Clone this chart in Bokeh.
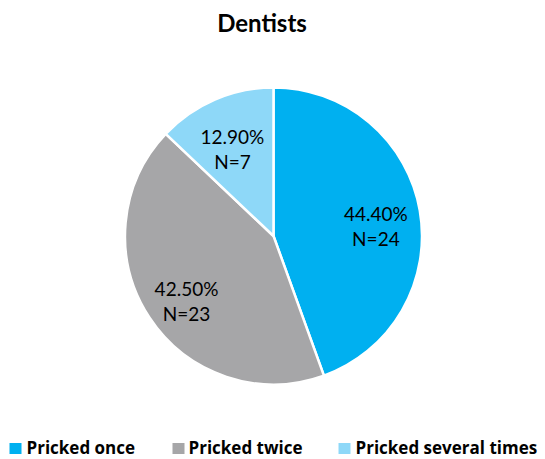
import math
from bokeh.plotting import figure
from bokeh.models import Range1d
from bokeh.core.properties import value
from bokeh.embed import file_html
from bokeh.resources import INLINE

# --- data ---
categories = ["Pricked once", "Pricked twice", "Pricked several times"]
percentages = [44.40, 42.50, 12.90]
counts = [24, 23, 7]
colors = ["#00B0F0", "#A6A6A8", "#8ED8F8"]
title_text = "Dentists"

W, H = 545, 459
FONT = "Lato"
LEGEND_FONT = "Open Sans"

p = figure(width=W, height=H, x_range=Range1d(0, W), y_range=Range1d(0, H),
           min_border=0, outline_line_color=None, toolbar_location=None,
           x_axis_location=None, y_axis_location=None, output_backend="svg")
p.grid.visible = False
p.background_fill_color = "white"
p.border_fill_color = "white"

def py(y):
    # convert a top-down pixel position to the plot's y coordinate
    return H - y

def mid_of(baseline, size):
    # vertical middle of the capitals for a given baseline and font size
    return baseline - 0.34 * size

cx, cy = 273, 235.5
R = 148.5

total = sum(percentages)
starts, ends, mids = [], [], []
acc = 0.0
for v in percentages:
    a0 = math.pi / 2 - acc / total * 2 * math.pi
    acc += v
    a1 = math.pi / 2 - acc / total * 2 * math.pi
    starts.append(a0)
    ends.append(a1)
    mids.append((a0 + a1) / 2)

p.wedge(x=[cx] * 3, y=[py(cy)] * 3, radius=R, start_angle=starts, end_angle=ends,
        direction="clock", fill_color=colors, line_color="white", line_width=2.5)

# slice labels
LS = 19
lx, ly1, ly2, t1, t2 = [], [], [], [], []
for m, pct, n in zip(mids, percentages, counts):
    x = cx + 0.7 * R * math.cos(m)
    yc = cy - 0.7 * R * math.sin(m) + 9
    lx.append(x)
    ly1.append(py(mid_of(yc - 7, LS)))
    ly2.append(py(mid_of(yc + 18, LS)))
    t1.append(f"{pct:.2f}%")
    t2.append(f"N={n}")

common = dict(text_font=value(FONT), text_font_size=f"{LS}px", text_color="#000000",
              text_align="center", text_baseline="middle")
p.text(x=lx, y=ly1, text=t1, **common)
p.text(x=lx, y=ly2, text=t2, **common)

# title
p.text(x=[261.5], y=[py(mid_of(30, 24))], text=[title_text], text_font=value(FONT),
       text_font_size="24px", text_font_style="bold", text_color="#000000",
       text_align="center", text_baseline="middle")

# legend
sq_x = [15, 178, 344]
tx_x = [26, 188, 355]
p.rect(x=sq_x, y=[py(448)] * 3, width=12, height=11, fill_color=colors, line_color=None)
p.text(x=tx_x, y=[py(mid_of(452.5, 17))] * 3, text=categories,
       text_font=value(LEGEND_FONT), text_font_size="17px", text_font_style="bold",
       text_color="#000000", text_align="left", text_baseline="middle")

open("out.html", "w").write(file_html(p, INLINE))
